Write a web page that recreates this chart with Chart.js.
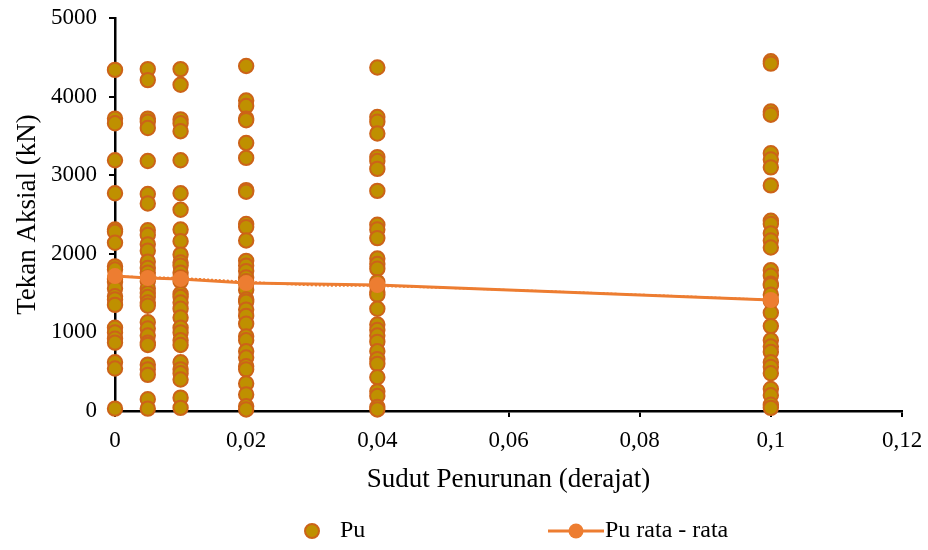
<!DOCTYPE html>
<html>
<head>
<meta charset="utf-8">
<script src="https://cdn.jsdelivr.net/npm/chart.js@4.4.1/dist/chart.umd.min.js"></script>
<style>
  html, body { margin: 0; padding: 0; background: #fff; }
  #wrap { width: 928px; height: 550px; position: relative; }
</style>
</head>
<body>
<div id="wrap"><canvas id="c" width="928" height="550"></canvas></div>
<script>
// Sudut penurunan (derajat) for each group of Pu samples
const angleGroups = [0, 0.005, 0.01, 0.02, 0.04, 0.1];

// Pu (kN) samples per settlement angle
const puAt0 = [4340, 3720, 3660, 3190, 2770, 2310, 2280, 2140, 1840, 1800, 1680, 1640, 1560, 1460, 1420, 1350, 1060, 1000, 920, 870, 620, 540, 30];
const puAt0005 = [4350, 4210, 3720, 3680, 3600, 3180, 2760, 2640, 2300, 2240, 2120, 2040, 1900, 1820, 1760, 1700, 1650, 1560, 1500, 1450, 1380, 1340, 1130, 1050, 960, 870, 840, 590, 530, 460, 150, 30];
const puAt001 = [4350, 4150, 3710, 3660, 3560, 3190, 2770, 2560, 2310, 2160, 1990, 1890, 1850, 1760, 1700, 1650, 1490, 1450, 1380, 1300, 1190, 1060, 1000, 900, 840, 620, 530, 480, 400, 170, 40];
const puAt002 = [4390, 3950, 3880, 3720, 3700, 3410, 3220, 2810, 2790, 2380, 2340, 2170, 1910, 1850, 1780, 1700, 1650, 1620, 1540, 1420, 1390, 1290, 1210, 1110, 950, 900, 760, 680, 570, 530, 350, 210, 60, 20];
const puAt004 = [4370, 3740, 3680, 3530, 3230, 3180, 3080, 2800, 2370, 2310, 2200, 1940, 1870, 1810, 1640, 1590, 1510, 1480, 1300, 1100, 1030, 960, 880, 760, 660, 600, 430, 250, 190, 50, 20];
const puAt01 = [4450, 4420, 3810, 3770, 3280, 3200, 3100, 2870, 2420, 2380, 2260, 2170, 2080, 1790, 1720, 1620, 1600, 1480, 1400, 1250, 1080, 900, 820, 750, 620, 560, 480, 280, 200, 80, 40];

// Pu rata - rata (kN) at each angle
const puAverage = [1717, 1692, 1680, 1628, 1603, 1412];

// Trendline under the average series
const trendX = [0, 0.01, 0.02, 0.03, 0.04, 0.06, 0.08, 0.1];
const trendY = [1712, 1690, 1645, 1600, 1590, 1540, 1480, 1415];

// Axis tick labels
const xTickLabels = ['0', '0,02', '0,04', '0,06', '0,08', '0,1', '0,12'];
const yTickLabels = ['0', '1000', '2000', '3000', '4000', '5000'];

const puGroups = [puAt0, puAt0005, puAt001, puAt002, puAt004, puAt01];

const puPoints = [];
puGroups.forEach((vals, i) => {
  vals.forEach(v => puPoints.push({ x: angleGroups[i], y: v }));
});
const avgPoints = angleGroups.map((x, i) => ({ x, y: puAverage[i] }));
const trendPoints = trendX.map((x, i) => ({ x, y: trendY[i] }));

const FONT = "'Liberation Serif', 'Times New Roman', serif";
const PU_FILL = '#BF9000';
const PU_EDGE = '#CC6318';
const AVG = '#ED7D31';

// Legend drawn below the x-axis title
const legendPlugin = {
  id: 'bottomLegend',
  afterDraw(chart) {
    const ctx = chart.ctx;
    const y = 531;
    ctx.save();
    // Pu marker
    ctx.beginPath();
    ctx.arc(312, y, 7, 0, Math.PI * 2);
    ctx.fillStyle = PU_FILL;
    ctx.fill();
    ctx.lineWidth = 2;
    ctx.strokeStyle = PU_EDGE;
    ctx.stroke();
    ctx.font = '24px ' + FONT;
    ctx.fillStyle = '#000';
    ctx.textBaseline = 'middle';
    ctx.textAlign = 'left';
    ctx.fillText('Pu', 340, y);
    // Pu rata - rata marker
    ctx.beginPath();
    ctx.moveTo(548, y);
    ctx.lineTo(604, y);
    ctx.lineWidth = 3;
    ctx.strokeStyle = AVG;
    ctx.stroke();
    ctx.beginPath();
    ctx.arc(576, y, 7.5, 0, Math.PI * 2);
    ctx.fillStyle = AVG;
    ctx.fill();
    ctx.fillStyle = '#000';
    ctx.fillText('Pu rata - rata', 605, y);
    ctx.restore();
  }
};

new Chart(document.getElementById('c'), {
  type: 'scatter',
  data: {
    datasets: [
      {
        label: 'Pu rata - rata',
        type: 'line',
        data: avgPoints,
        borderColor: AVG,
        backgroundColor: AVG,
        borderWidth: 3,
        pointRadius: 8,
        pointBorderWidth: 0,
        pointBackgroundColor: AVG,
        tension: 0,
        clip: false,
        order: 0
      },
      {
        label: 'Trend',
        type: 'line',
        data: trendPoints,
        borderColor: AVG,
        borderWidth: 2,
        borderDash: [2, 2],
        pointRadius: 0,
        tension: 0.4,
        order: 1
      },
      {
        label: 'Pu',
        data: puPoints,
        backgroundColor: PU_FILL,
        borderColor: PU_EDGE,
        borderWidth: 2,
        pointRadius: 7.2,
        clip: false,
        order: 2
      }
    ]
  },
  options: {
    responsive: false,
    animation: false,
    events: [],
    layout: { padding: { left: 0, right: 26, top: 18, bottom: 54 } },
    plugins: {
      legend: { display: false },
      tooltip: { enabled: false }
    },
    scales: {
      x: {
        type: 'linear',
        min: 0,
        max: 0.12,
        afterFit(scale) {
          scale.height = 85;
          scale.paddingLeft = 0;
          scale.paddingRight = 0;
        },
        ticks: {
          stepSize: 0.02,
          color: '#000',
          padding: 10,
          maxRotation: 0,
          font: { family: FONT, size: 23 },
          callback: (v, i) => xTickLabels[i]
        },
        grid: {
          drawOnChartArea: false,
          drawTicks: true,
          tickLength: 6,
          color: '#000',
          lineWidth: 2
        },
        border: { color: '#000', width: 2.5 },
        title: {
          display: true,
          text: 'Sudut Penurunan (derajat)',
          color: '#000',
          font: { family: FONT, size: 27 },
          padding: { top: 0, bottom: 0 }
        }
      },
      y: {
        min: 0,
        max: 5000,
        afterFit(scale) {
          scale.width = 115;
          scale.paddingTop = 0;
          scale.paddingBottom = 0;
        },
        ticks: {
          stepSize: 1000,
          color: '#000',
          padding: 12,
          font: { family: FONT, size: 23 },
          callback: (v, i) => yTickLabels[i]
        },
        grid: {
          drawOnChartArea: false,
          drawTicks: true,
          tickLength: 6,
          color: '#000',
          lineWidth: 2
        },
        border: { color: '#000', width: 2.5 },
        title: {
          display: true,
          text: 'Tekan Aksial (kN)',
          color: '#000',
          font: { family: FONT, size: 27 },
          padding: { top: 12, bottom: 0 }
        }
      }
    }
  },
  plugins: [legendPlugin]
});
</script>
</body>
</html>
